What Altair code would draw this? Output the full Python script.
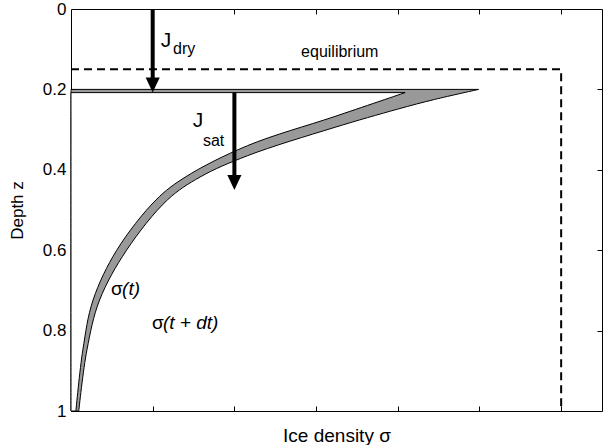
import altair as alt
import pandas as pd

# ---- data ----
# outer curve sigma(t+dt): depth z and ice density sigma
z_outer = [0.200, 0.225, 0.249, 0.295, 0.365, 0.418, 0.475, 0.600, 0.724, 0.848, 1.000]
s_outer = [4.99, 4.45, 4.00, 3.22, 2.16, 1.58, 1.18, 0.68, 0.35, 0.195, 0.095]
# inner curve sigma(t)
z_inner = [0.208, 0.268, 0.340, 0.418, 0.475, 0.600, 0.724, 0.848, 1.000]
s_inner = [4.09, 3.22, 2.16, 1.40, 1.04, 0.56, 0.27, 0.145, 0.06]

# equilibrium profile (dashed)
eq_s = [0.0, 6.0, 6.0]
eq_z = [0.15, 0.15, 1.0]

# flux arrows
arrow_s = [1.0, 2.0]
arrow_z0 = [0.0, 0.208]
arrow_zb = [0.175, 0.415]
arrow_zt = [0.208, 0.450]

# annotations (data coordinates)
big_txt = ["J", "J"]; big_s = [1.10, 1.49]; big_z = [0.0945, 0.294]
sub_txt = ["dry", "sat"]; sub_s = [1.25, 1.615]; sub_z = [0.113, 0.341]
eq_txt = ["equilibrium"]; eq_ts = [3.29]; eq_tz = [0.119]
sig_txt = ["σ", "σ"]; sig_s = [0.49, 0.99]; sig_z = [0.711, 0.796]
ita_txt = ["(t)", "(t + dt)"]; ita_s = [0.625, 1.126]; ita_z = [0.711, 0.796]

x_ticks = [1, 2, 3, 4, 5, 6]
y_ticks = [0, 0.2, 0.4, 0.6, 0.8, 1.0]
y_inner_ticks = [0.2, 0.4, 0.6, 0.8]

FONT = "Liberation Sans"
xs = alt.Scale(domain=[0, 6.5], nice=False, zero=False)
ys = alt.Scale(domain=[0, 1], reverse=True, nice=False, zero=False)

outer = pd.DataFrame({"z": z_outer, "s": s_outer, "x0": 0.0})
inner = pd.DataFrame({"z": z_inner, "s": s_inner, "x0": 0.0})
eq = pd.DataFrame({"s": eq_s, "z": eq_z, "o": list(range(len(eq_s)))})
arr = pd.DataFrame({"s": arrow_s, "z0": arrow_z0, "zb": arrow_zb, "zt": arrow_zt})

ax_main_x = alt.Axis(title="Ice density σ", labels=False, ticks=False, domain=False,
                     grid=False, values=x_ticks, titlePadding=15, titleFontSize=19)
ax_main_y = alt.Axis(title="Depth z", values=y_ticks, format="~g", ticks=False, domain=False,
                     grid=False, labelPadding=5, titlePadding=16)
ax_in_x = alt.Axis(title=None, labels=False, domain=False, grid=False, values=x_ticks,
                   tickSize=5, offset=-5, orient="bottom")
ax_in_y = alt.Axis(title=None, labels=False, domain=False, grid=False, values=y_inner_ticks,
                   tickSize=5, offset=-5, orient="left")
ax_top_x = alt.Axis(title=None, labels=False, domain=False, grid=False, values=x_ticks,
                    tickSize=5, offset=-5, orient="top")
ax_right_y = alt.Axis(title=None, labels=False, domain=False, grid=False, values=y_inner_ticks,
                      tickSize=5, offset=-5, orient="right")

gray = alt.Chart(outer).mark_area(
    orient="horizontal", interpolate="catmull-rom", fill="#999999",
    stroke="black", strokeWidth=1
).encode(
    y=alt.Y("z:Q", scale=ys, axis=ax_main_y),
    x=alt.X("x0:Q", scale=xs, axis=ax_main_x),
    x2="s:Q",
)

white = alt.Chart(inner).mark_area(
    orient="horizontal", interpolate="catmull-rom", fill="white",
    stroke="black", strokeWidth=1
).encode(
    y=alt.Y("z:Q", scale=ys, axis=ax_in_y),
    x=alt.X("x0:Q", scale=xs, axis=ax_in_x),
    x2="s:Q",
)

dash = alt.Chart(eq).mark_line(color="black", strokeWidth=2, strokeDash=[8, 5]).encode(
    x=alt.X("s:Q", scale=xs, axis=ax_top_x),
    y=alt.Y("z:Q", scale=ys, axis=ax_right_y),
    order="o:Q",
)

shaft = alt.Chart(arr).mark_rule(color="black", strokeWidth=4).encode(
    x=alt.X("s:Q", scale=xs, axis=None),
    y=alt.Y("z0:Q", scale=ys, axis=None),
    y2="zb:Q",
)

head = alt.Chart(arr).mark_point(
    shape="M -0.47 -1 L 0.47 -1 L 0 0 Z", size=900, filled=True,
    color="black", opacity=1, strokeWidth=0
).encode(
    x=alt.X("s:Q", scale=xs, axis=None),
    y=alt.Y("zt:Q", scale=ys, axis=None),
)


def text_layer(txt, s, z, size, style="normal", align="left"):
    df = pd.DataFrame({"t": txt, "s": s, "z": z})
    return alt.Chart(df).mark_text(
        font=FONT, fontSize=size, fontStyle=style, align=align,
        baseline="alphabetic", color="black"
    ).encode(
        x=alt.X("s:Q", scale=xs, axis=None),
        y=alt.Y("z:Q", scale=ys, axis=None),
        text="t:N",
    )


t_big = text_layer(big_txt, big_s, big_z, 21)
t_sub = text_layer(sub_txt, sub_s, sub_z, 16)
t_eq = text_layer(eq_txt, eq_ts, eq_tz, 16, align="center")
t_sig = text_layer(sig_txt, sig_s, sig_z, 19)
t_ita = text_layer(ita_txt, ita_s, ita_z, 19, style="italic")

chart = alt.layer(gray, white, dash, shaft, head, t_big, t_sub, t_eq, t_sig, t_ita).resolve_axis(
    x="independent", y="independent"
).properties(
    width=531, height=402,
    autosize=alt.AutoSizeParams(type="none"),
    padding={"left": 71, "top": 9, "right": 3, "bottom": 34},
).configure_view(
    stroke="black", strokeWidth=1
).configure_axis(
    labelFont=FONT, titleFont=FONT, labelFontSize=17, titleFontSize=17,
    titleFontWeight="normal", labelColor="black", titleColor="black",
    tickColor="black", tickWidth=1
)

chart.save("out.html", embed_options={"renderer": "svg", "actions": False})
